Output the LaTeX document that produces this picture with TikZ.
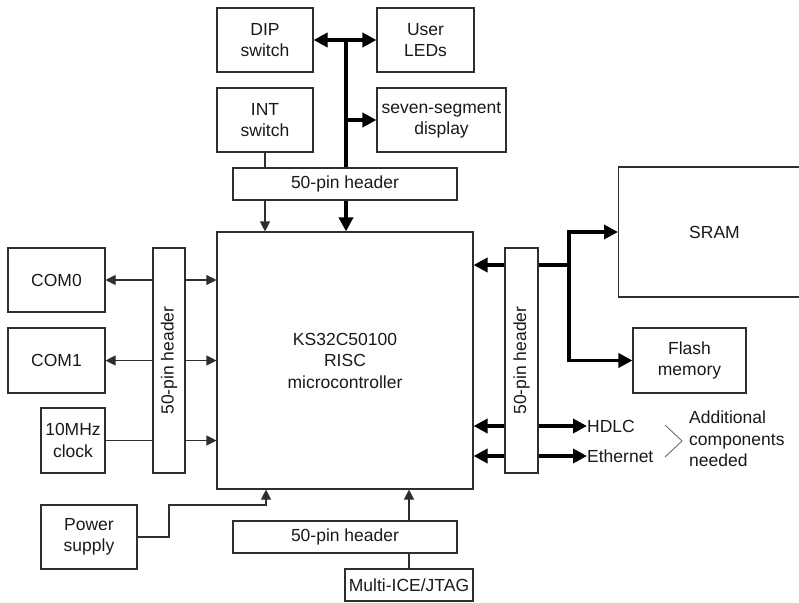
\documentclass[tikz,border=0pt]{standalone}
\usepackage{fontspec}
\setmainfont{Liberation Sans}
\usetikzlibrary{arrows.meta,calc}
\definecolor{linegray}{gray}{0.18}
\definecolor{txt}{gray}{0.1}
\begin{document}
\begin{tikzpicture}[x=1pt,y=-1pt,
  lbl/.style={text=txt,font=\fontsize{17.5}{21.5}\selectfont,align=center,inner sep=0pt},
  box/.style={lbl,draw=linegray,line width=1.1pt},
  thinline/.style={draw=linegray,line width=1.1pt},
  thinarr/.style={thinline,-{Triangle[length=10pt,width=10pt]}},
  busline/.style={draw=black,line width=3.5pt},
  busarr/.style={busline,-{Triangle[length=14pt,width=14pt]}},
  busdbl/.style={busline,{Triangle[length=14pt,width=14pt]}-{Triangle[length=14pt,width=14pt]}},
]
\useasboundingbox (0,0) rectangle (799,602);

% top boxes
\node[box,minimum width=96,minimum height=64] (dip) at (265,40) {DIP\\switch};
\node[box,minimum width=97,minimum height=64] (leds) at (425.5,40) {User\\LEDs};
\node[box,minimum width=96,minimum height=64] (int) at (265,120) {INT\\switch};
\node[box,minimum width=129,minimum height=64] (seg) at (441.5,120) {seven-segment\\display};
\node[box,minimum width=224,minimum height=32] (toph) at (345,184) {50-pin header};

% main
\node[box,minimum width=256,minimum height=257] (mcu) at (345,360.5) {KS32C50100\\RISC\\microcontroller};

% left
\node[box,minimum width=97,minimum height=64] (com0) at (56.5,280) {COM0};
\node[box,minimum width=97,minimum height=65] (com1) at (56.5,360.5) {COM1};
\node[box,minimum width=64,minimum height=65] (clk) at (73,440.5) {10MHz\\clock};
\node[box,minimum width=32,minimum height=225] (lefth) at (169,360.5) {\rotatebox{90}{50-pin header}};

% right
\node[box,minimum width=33,minimum height=225] (righth) at (521.5,360.5) {\rotatebox{90}{50-pin header}};
\node[box,minimum width=200,minimum height=130,anchor=west] (sram) at (618,232) {};
\node[lbl] (sramlbl) at (714.5,232) {SRAM};
\node[box,minimum width=113,minimum height=65] (flash) at (689.5,360.5) {Flash\\memory};
\node[lbl,anchor=west] (hdlc) at (587,426) {HDLC};
\node[lbl,anchor=west] (eth) at (587,456) {Ethernet};
\node[lbl,anchor=west,align=left] (add) at (689,439) {Additional\\components\\needed};

% bottom
\node[box,minimum width=96,minimum height=64] (pwr) at (89,537) {Power\\supply};
\node[box,minimum width=224,minimum height=32] (both) at (345,537) {50-pin header};
\node[box,minimum width=128,minimum height=32] (ice) at (409,585) {Multi-ICE/JTAG};

% top connectors
\coordinate (busTop) at (346,40);
\coordinate (busSeg) at (346,120);
\draw[busdbl] (dip.east) -- (leds.west);
\draw[busline] (busTop) -- (busTop |- toph.north);
\draw[busarr] (busSeg) -- (seg.west |- busSeg);
\draw[busarr] (busTop |- toph.south) -- (busTop |- mcu.north);
\draw[thinline] (int.south) -- (int.south |- toph.north);
\draw[thinarr] (int.south |- toph.south) -- (int.south |- mcu.north);

% left connectors
\draw[thinarr] (lefth.west |- com0) -- (com0.east);
\draw[thinarr] (lefth.east |- com0) -- (mcu.west |- com0);
\draw[thinarr] (lefth.west |- com1) -- (com1.east);
\draw[thinarr] (lefth.east |- com1) -- (mcu.west |- com1);
\draw[thinline] (clk.east) -- (lefth.west |- clk);
\draw[thinarr] (lefth.east |- clk) -- (mcu.west |- clk);

% right connectors
\coordinate (memY) at (0,265);
\coordinate (jn) at (569,265);
\draw[busarr] (righth.west |- memY) -- (mcu.east |- memY);
\draw[busline] (righth.east |- memY) -- (jn);
\draw[busarr] (jn) |- (sram.west);
\draw[busarr] (jn) |- (flash.west);
\draw[busarr] (righth.west |- hdlc) -- (mcu.east |- hdlc);
\draw[busarr] (righth.east |- hdlc) -- (hdlc.west);
\draw[busarr] (righth.west |- eth) -- (mcu.east |- eth);
\draw[busarr] (righth.east |- eth) -- (eth.west);
\coordinate (brA) at (665,425);
\coordinate (brB) at (682,441);
\coordinate (brC) at (665,457);
\draw[draw=linegray!70,line width=0.9pt] (brA) -- (brB) -- (brC);

% bottom connectors
\coordinate (pwrBend) at (169,505);
\draw[thinarr] (pwr.east) -| (pwrBend) -| (266,0 |- mcu.south);
\draw[thinline] (ice.north) -- (ice.north |- both.south);
\draw[thinarr] (ice.north |- both.north) -- (ice.north |- mcu.south);
\end{tikzpicture}
\end{document}
